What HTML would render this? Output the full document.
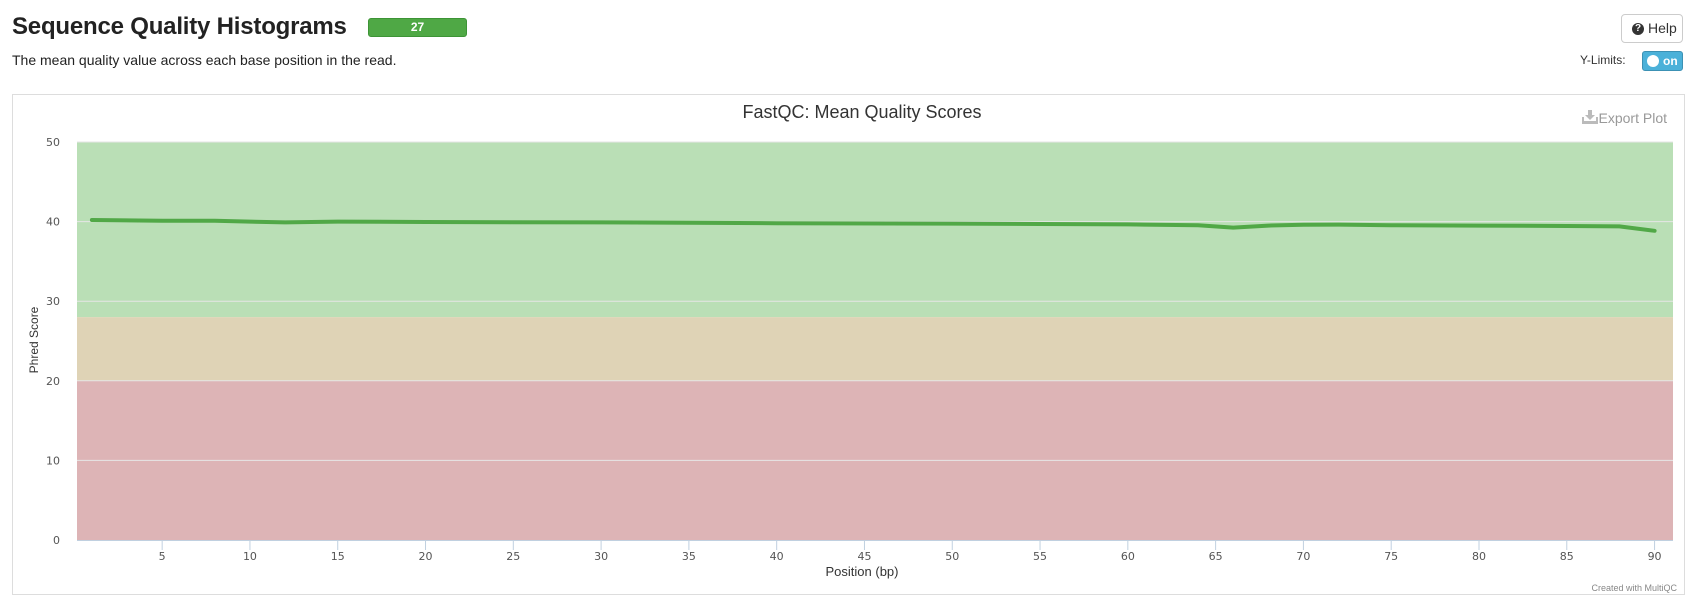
<!DOCTYPE html>
<html><head><meta charset="utf-8"><style>
body{margin:0;width:1696px;height:597px;background:#fff;font-family:"Liberation Sans",sans-serif;overflow:hidden;position:relative}
.abs{position:absolute}
</style></head><body>
<div class="abs" style="left:12px;top:13px;font-size:24px;font-weight:bold;color:#222;letter-spacing:-0.2px">Sequence Quality Histograms</div>
<div class="abs" style="left:368px;top:18px;width:99px;height:19px;background:#4fa845;border-radius:3px;border:1px solid #3d9436;box-sizing:border-box;color:#fff;font-size:12px;font-weight:bold;text-align:center;line-height:17px;">27</div>
<div class="abs" style="left:12px;top:52px;font-size:14px;color:#222;">The mean quality value across each base position in the read.</div>
<div class="abs" style="left:1621px;top:14px;width:62px;height:29px;border:1px solid #ccc;border-radius:4px;box-sizing:border-box;font-size:14px;line-height:27px;color:#333;"><span style="position:absolute;left:10px;top:8px;width:12px;height:12px;border-radius:50%;background:#333;color:#fff;font-size:10px;line-height:12px;font-weight:bold;text-align:center">?</span><span style="position:absolute;left:26px">Help</span></div>
<div class="abs" style="left:1580px;top:53px;font-size:12px;color:#333;">Y-Limits:</div>
<div class="abs" style="left:1642px;top:51px;width:41px;height:20px;background:#4bb1d9;border:1px solid #3c91b4;border-radius:3px;box-sizing:border-box;color:#fff;font-size:12px;font-weight:bold;line-height:18px;"><span style="position:absolute;left:4px;top:3px;width:12px;height:12px;border-radius:50%;background:#fff"></span><span style="position:absolute;left:20px">on</span></div>
<div class="abs" style="left:12px;top:94px;width:1673px;height:501px;border:1px solid #ddd;box-sizing:border-box;"></div>
<svg class="abs" style="left:0;top:0" width="1696" height="597">
<g id="bands"></g><g id="grid"></g><g id="axes"></g>
<text x="862" y="118" text-anchor="middle" font-size="18" fill="#333" font-family="Liberation Sans,sans-serif">FastQC: Mean Quality Scores</text>
<g>
<path d="M1582 117v7h16v-7h-2v4h-12v-4z M1588 110h4v5h3l-5 5-5-5h3z" fill="#bbb"/>
<text x="1667" y="123" text-anchor="end" font-size="14" fill="#999" font-family="Liberation Sans,sans-serif">Export Plot</text></g>
<text transform="translate(38,340) rotate(-90)" text-anchor="middle" font-size="12" fill="#333" font-family="Liberation Sans,sans-serif">Phred Score</text>
<text x="862" y="576" text-anchor="middle" font-size="13" fill="#333" font-family="Liberation Sans,sans-serif">Position (bp)</text>
<text x="1677" y="591" text-anchor="end" font-size="9" fill="#888" font-family="Liberation Sans,sans-serif">Created with MultiQC</text>
<g id="series"></g>
</svg>
<script>
const positions=[1,5,8,10,12,15,20,30,40,50,55,60,64,66,68,70,72,75,80,85,88,90];
const meanScores=[40.2,40.1,40.1,40.0,39.9,40.0,39.95,39.9,39.8,39.75,39.7,39.65,39.55,39.25,39.5,39.6,39.62,39.55,39.5,39.45,39.4,38.85];
const xTicks=[5,10,15,20,25,30,35,40,45,50,55,60,65,70,75,80,85,90];
const yTicks=[0,10,20,30,40,50];
const bandRanges=[[28,50,'#badfb6'],[20,28,'#dfd3b6'],[0,20,'#ddb4b6']];
const L=77,R=1673,T=142,B=540,xmin=0.15,xmax=91.05;
const X=v=>L+(v-xmin)/(xmax-xmin)*(R-L);
const Y=v=>B-v/50*(B-T);
const NS='http://www.w3.org/2000/svg';
function mk(t,a,p){const e=document.createElementNS(NS,t);for(const k in a)e.setAttribute(k,a[k]);p.appendChild(e);return e;}
const bands=document.getElementById('bands'),grid=document.getElementById('grid'),axes=document.getElementById('axes'),series=document.getElementById('series');
bandRanges.forEach(b=>{const r=mk('rect',{x:L,y:Y(b[1]),width:R-L,height:Y(b[0])-Y(b[1]),fill:b[2]},bands);

});
yTicks.forEach(v=>{if(v>0){const g=mk('line',{x1:L,x2:R,y1:Y(v),y2:Y(v),stroke:'#e6e6e6','stroke-width':1},grid);

}
const t=mk('text',{x:60,y:Y(v)+4,'text-anchor':'end','font-size':11,fill:'#555','font-family':'DejaVu Sans,sans-serif'},axes);t.textContent=v;

});
mk('line',{x1:L,x2:R,y1:B+0.5,y2:B+0.5,stroke:'#c0d0e0'},axes);
xTicks.forEach(v=>{mk('line',{x1:X(v),x2:X(v),y1:B,y2:B+10,stroke:'#c0d0e0'},axes);
const t=mk('text',{x:X(v),y:B+20,'text-anchor':'middle','font-size':11,fill:'#555','font-family':'DejaVu Sans,sans-serif'},axes);t.textContent=v;

});
const d=positions.map((p,i)=>(i?'L':'M')+X(p).toFixed(1)+' '+Y(meanScores[i]).toFixed(1)).join(' ');
const line=mk('path',{d:d,fill:'none',stroke:'#51a847','stroke-width':4,'stroke-linejoin':'round','stroke-linecap':'round'},series);


</script>
</body></html>
